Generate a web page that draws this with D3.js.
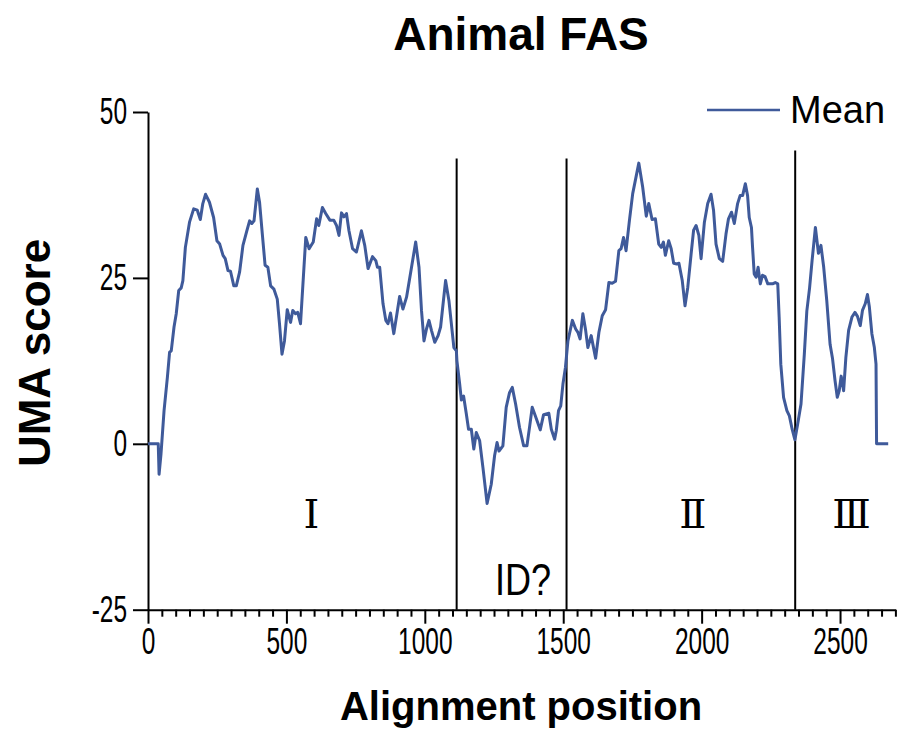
<!DOCTYPE html>
<html>
<head>
<meta charset="utf-8">
<script src="https://cdn.jsdelivr.net/npm/d3@7"></script>
<style>
  body { margin: 0; background: #fff; }
  svg { display: block; }
</style>
</head>
<body>
<div id="chart"></div>
<script>
// Mean UMA score along the alignment
const position = [0, 37, 40, 47, 58, 70, 78, 84, 94, 102, 111, 120, 126, 135, 150, 165, 178, 189, 198, 208,
  222, 237, 249, 259, 271, 279, 289, 298, 310, 319, 331, 343, 357, 367, 375, 383, 395, 403, 413, 423,
  433, 443, 455, 467, 475, 484, 493, 503, 515, 523, 533, 541, 551, 570, 582, 597, 609, 617, 630, 642,
  657, 671, 681, 690, 699, 708, 717, 726, 739, 753, 771, 783, 795, 811, 823, 829, 837, 849, 859, 867,
  876, 888, 900, 909, 921, 934, 952, 967, 979, 988, 997, 1006, 1015, 1024, 1036, 1048, 1057, 1075, 1087, 1105,
  1114, 1116, 1126, 1132, 1140, 1150, 1158, 1168, 1177, 1186, 1198, 1210, 1225, 1240, 1252, 1261, 1268, 1282, 1294, 1306,
  1316, 1328, 1342, 1357, 1369, 1379, 1388, 1401, 1417, 1429, 1448, 1457, 1469, 1475, 1483, 1491, 1499, 1508, 1517, 1533,
  1545, 1553, 1561, 1571, 1581, 1589, 1601, 1617, 1629, 1641, 1653, 1665, 1677, 1689, 1701, 1709, 1718, 1727, 1739, 1751,
  1773, 1787, 1800, 1809, 1821, 1833, 1845, 1854, 1862, 1869, 1881, 1890, 1899, 1910, 1918, 1930, 1940, 1950, 1962, 1971,
  1980, 1990, 1998, 2010, 2022, 2034, 2043, 2052, 2064, 2076, 2088, 2097, 2108, 2118, 2130, 2139, 2148, 2158, 2166, 2172,
  2180, 2184, 2190, 2197, 2204, 2212, 2220, 2229, 2239, 2247, 2256, 2266, 2275, 2280, 2286, 2296, 2308, 2317, 2327, 2337,
  2347, 2359, 2371, 2380, 2390, 2399, 2411, 2422, 2431, 2441, 2452, 2464, 2473, 2482, 2490, 2497, 2504, 2513, 2521, 2531,
  2543, 2554, 2563, 2573, 2581, 2591, 2599, 2606, 2615, 2624, 2630, 2632, 2674]

const meanScore = [0, 0, -4.6, -1.5, 5, 10, 13.8, 14, 17.6, 19.6, 23.1, 23.5, 24.6, 29.6, 33.4, 35.4, 35.2, 33.8, 36.2, 37.6,
  36.4, 34.1, 30.6, 30.1, 28.4, 27.9, 26.1, 26, 23.8, 23.8, 25.9, 29.9, 32.1, 33.6, 33.2, 33.6, 38.4, 36.4, 31.6, 26.9,
  26.6, 23.8, 23.3, 21.8, 18.1, 13.5, 15.5, 20.2, 18.3, 20.1, 19.6, 19.8, 18.1, 31.1, 29.4, 30.4, 33.9, 32.9, 35.6, 34.7,
  33.7, 33.7, 32.9, 31.4, 34.8, 34.2, 34.7, 32.1, 29.4, 28.9, 32.1, 29.9, 26.4, 28.2, 27.6, 26.6, 26.6, 21.1, 18.6, 18.1,
  19.7, 16.6, 19.8, 22.2, 20.3, 22.1, 26.6, 30.4, 26.6, 20.1, 15.5, 17.3, 18.6, 17.1, 15.3, 16.3, 17.6, 24.6, 21.6, 14.5,
  14, 12.5, 9, 6.6, 7.2, 4.5, 2.2, 2.2, -0.8, 1.7, 0.5, -3.6, -9, -6.1, -1.8, 0.2, -1.1, -0.3, 5.5, 7.7,
  8.5, 6, 2.5, -0.3, -0.3, 2.7, 5.5, 4, 2.1, 4.4, 4.6, 2.2, 0.7, 2, 5, 5.7, 9, 11.5, 15.5, 18.6,
  17.3, 16.8, 15.8, 19.6, 17.1, 14.5, 16.3, 12.9, 16.8, 19.3, 20.2, 24.3, 24.2, 24.5, 29.1, 29.4, 31.1, 29.1, 33.6, 37.7,
  42.3, 38.7, 34.3, 36.2, 33.8, 33.9, 30.1, 29.6, 30.4, 28.4, 30.6, 29.4, 27.2, 27.1, 27.2, 24.6, 20.8, 23.6, 28.6, 32.2,
  32.9, 31.4, 27.9, 33.4, 36.2, 37.6, 35.2, 30.1, 27.9, 27.5, 31.6, 33.9, 34.9, 33.2, 36.2, 37.4, 37.4, 39.2, 37.4, 34.1,
  32.6, 29.6, 25.6, 25.1, 26.6, 24.1, 25.4, 25.2, 24.1, 24.1, 24.1, 24.3, 24.1, 19.1, 12, 7, 5, 4.2, 2.2, 0.6,
  3, 6, 13.5, 20, 23.5, 27.6, 32.6, 28.7, 29.9, 26.6, 21.6, 15, 12.8, 9.5, 7, 8, 10.2, 8, 13, 17.1,
  19.1, 19.8, 19.2, 17.8, 20.1, 21.1, 22.5, 20.6, 16.6, 14.5, 12, 0, 0]

// domain boundaries (vertical lines) and their top ends
const boundaryPos = [1115, 1512, 2338]
const boundaryTop = [43, 43, 44.2]

// domain names
const regionNames = ["Ⅰ", "ID?", "Ⅱ", "Ⅲ"]
const regionPos = [590, 1355, 1968, 2542]
const regionLevel = [-12.7, -22.8, -12.7, -12.7]

const xTicks = [0, 500, 1000, 1500, 2000, 2500]
const yTicks = [-25, 0, 25, 50]

const width = 897
const height = 737
const lineColor = "#3f5a9a"
const narrow = 0.68

const xScale = d3.scaleLinear().domain([0, 2700]).range([148, 895.4])
const yScale = d3.scaleLinear().domain([-25, 50]).range([609.7, 112])

const svg = d3.select("#chart")
  .append("svg")
    .attr("width", width)
    .attr("height", height)
    .attr("font-family", "'Liberation Sans', Arial, sans-serif")

// Title
svg.append("text")
    .text("Animal FAS")
    .attr("x", 521)
    .attr("y", 50)
    .attr("text-anchor", "middle")
    .attr("font-size", 46)
    .attr("font-weight", "bold")

// Axes
const xAxis = d3.axisBottom(xScale)
  .tickValues(xTicks)
  .tickSize(14)
  .tickSizeOuter(0)
  .tickPadding(5)
  .tickFormat(d => String(d))

const gx = svg.append("g")
    .attr("transform", "translate(0," + yScale(-25) + ")")
    .call(xAxis)

const minor = d3.range(0, 2701, 50).filter(d => d % 500 !== 0)
svg.append("g")
    .attr("transform", "translate(0," + yScale(-25) + ")")
    .call(d3.axisBottom(xScale).tickValues(minor).tickSize(7).tickFormat(""))
    .call(g => g.select(".domain").remove())
    .selectAll("line").attr("stroke-width", 2)

const yAxis = d3.axisLeft(yScale)
  .tickValues(yTicks)
  .tickSize(15)
  .tickSizeOuter(0)
  .tickPadding(6)
  .tickFormat(d => String(d))

const gy = svg.append("g")
    .attr("transform", "translate(" + xScale(0) + ",0)")
    .call(yAxis)

for (const g of [gx, gy]) {
  g.select(".domain").attr("stroke-width", 2)
  g.selectAll(".tick line").attr("stroke-width", 2)
  g.selectAll(".tick text")
    .attr("font-size", 36)
    .attr("fill", "#000")
    .attr("font-family", "'Liberation Sans', Arial, sans-serif")
}
gx.selectAll(".tick text").attr("transform", "scale(" + narrow + ",1)")
gy.selectAll(".tick text")
    .attr("x", -21 / narrow)
    .attr("transform", "scale(" + narrow + ",1)")

// Axis titles
svg.append("text")
    .text("Alignment position")
    .attr("x", 521)
    .attr("y", 720)
    .attr("text-anchor", "middle")
    .attr("font-size", 40)
    .attr("font-weight", "bold")

svg.append("text")
    .text("UMA score")
    .attr("text-anchor", "middle")
    .attr("font-size", 44)
    .attr("font-weight", "bold")
    .attr("transform", "translate(50," + 353 + ")rotate(-90)")

// Boundaries
svg.selectAll(".boundary")
  .data(boundaryPos)
  .enter()
  .append("line")
    .attr("class", "boundary")
    .attr("x1", d => xScale(d))
    .attr("x2", d => xScale(d))
    .attr("y1", (d, i) => yScale(boundaryTop[i]))
    .attr("y2", yScale(-25))
    .attr("stroke", "#000")
    .attr("stroke-width", 2)

// Mean line
const line = d3.line()
  .x(d => xScale(d[0]))
  .y(d => yScale(d[1]))

svg.append("path")
    .datum(position.map((p, i) => [p, meanScore[i]]))
    .attr("d", line)
    .attr("fill", "none")
    .attr("stroke", lineColor)
    .attr("stroke-width", 3)
    .attr("stroke-linejoin", "round")

// Region labels
regionNames.forEach((name, i) => {
  const t = svg.append("text")
      .text(name)
      .attr("text-anchor", "middle")
  if (name === "ID?") {
    t.attr("font-size", 44)
     .attr("transform", "translate(" + xScale(regionPos[i]) + "," + yScale(regionLevel[i]) + ")scale(0.82,1)")
  } else {
    t.attr("font-size", 40)
     .attr("font-family", "'Liberation Serif', 'DejaVu Serif', serif")
     .attr("x", xScale(regionPos[i]))
     .attr("y", yScale(regionLevel[i]))
  }
})

// Legend
svg.append("line")
    .attr("x1", 707)
    .attr("x2", 780)
    .attr("y1", 110)
    .attr("y2", 110)
    .attr("stroke", lineColor)
    .attr("stroke-width", 2.5)
svg.append("text")
    .text("Mean")
    .attr("x", 790)
    .attr("y", 123)
    .attr("font-size", 38)
</script>
</body>
</html>
